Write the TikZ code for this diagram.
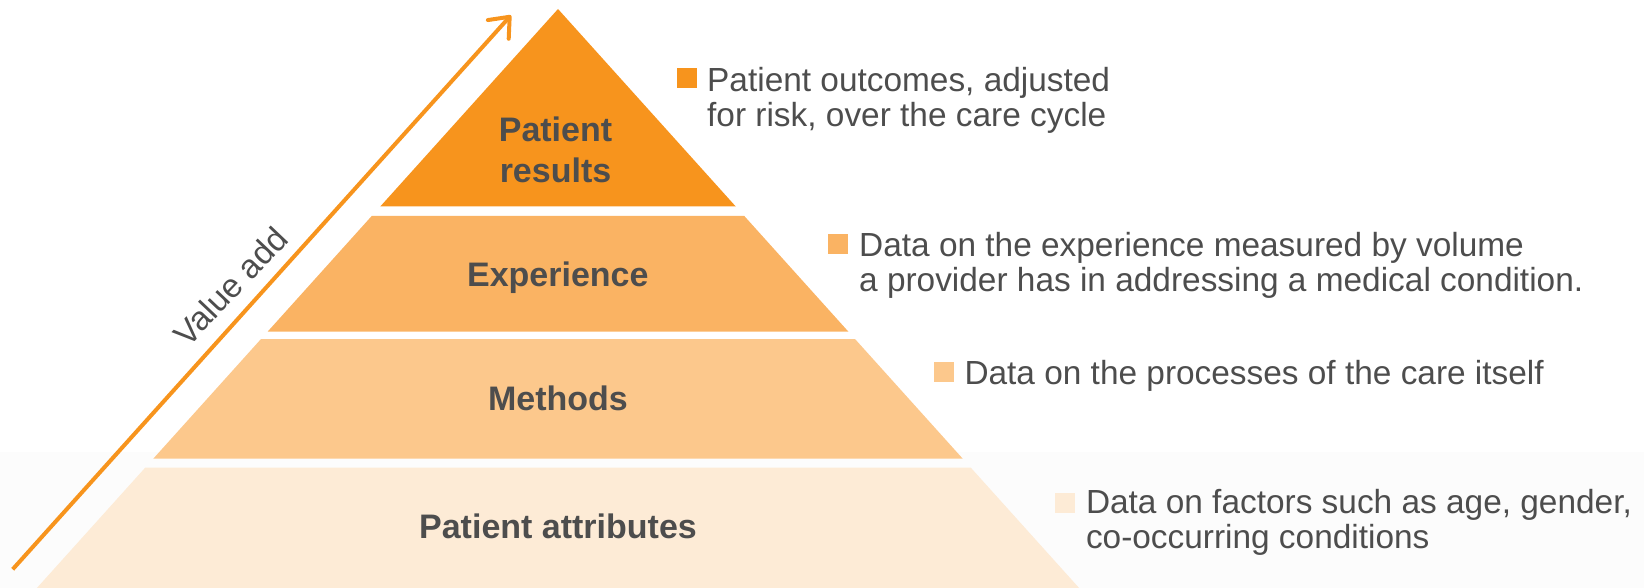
\documentclass[tikz,border=0pt]{standalone}
\usepackage{fontspec}
\setmainfont{Liberation Sans}
\usetikzlibrary{arrows.meta}
\definecolor{orA}{HTML}{F7941D}
\definecolor{orB}{HTML}{FAB363}
\definecolor{orC}{HTML}{FCC88C}
\definecolor{orD}{HTML}{FDEBD6}
\definecolor{txt}{HTML}{4D4D4D}
\definecolor{bgstrip}{HTML}{FCFCFC}
\begin{document}
\begin{tikzpicture}[x=1pt,y=-1pt,
  lbl/.style={font=\fontsize{34}{41}\selectfont\bfseries, text=txt, inner sep=0pt, align=center},
  desc/.style={font=\fontsize{33.4}{34.8}\selectfont, text=txt, inner sep=0pt, align=left, anchor=north west},
  sq/.style={minimum size=20pt, inner sep=0pt, outer sep=0pt, draw=none},
  arrowline/.style={draw=orA, line width=4pt, -{Straight Barb[length=17pt,width=28pt,round]}}]
\useasboundingbox (0,0) rectangle (1644,588);
\fill[bgstrip] (0,452) rectangle (1644,588);
% pyramid bands
\fill[orA] (558,9) -- (735.75,206.5) -- (380.25,206.5) -- cycle;
\fill[orB] (371.7,216) -- (744.3,216) -- (848.25,331.5) -- (267.75,331.5) -- cycle;
\fill[orC] (261,339) -- (855,339) -- (962.55,458.5) -- (153.45,458.5) -- cycle;
\fill[orD] (145.35,467.5) -- (970.65,467.5) -- (1079.1,588) -- (36.9,588) -- cycle;
% band labels
\node[lbl, anchor=south] (lres) at (555.5,183.3) {Patient\\results};
\node[lbl, anchor=base] (lexp) at (557.8,286) {Experience};
\node[lbl, anchor=base] (lmet) at (558,410) {Methods};
\node[lbl, anchor=base] (latt) at (558,538.3) {Patient attributes};
% value arrow
\coordinate (a0) at (12.7,569.3);
\coordinate (a1) at (511,15.3);
\draw[arrowline] (a0) -- (a1);
\node[font=\fontsize{33.4}{36}\selectfont, text=txt, inner sep=0pt, rotate=46.5, anchor=base] (val) at (239,294.5) {Value add};
% legend squares
\node[sq, fill=orA] (s1) at (687,78.3) {};
\node[sq, fill=orB] (s2) at (838.2,244) {};
\node[sq, fill=orC] (s3) at (943.8,372) {};
\node[sq, fill=orD] (s4) at (1064.5,503) {};
% descriptions
\node[desc] (d1) at (707,66.7) {\rule{0pt}{25pt}Patient outcomes, adjusted\\for risk, over the care cycle};
\node[desc] (d2) at (859,231.7) {\rule{0pt}{25pt}Data on the experience measured by volume\\a provider has in addressing a medical condition.};
\node[desc] (d3) at (964.3,359) {\rule{0pt}{25pt}Data on the processes of the care itself};
\node[desc] (d4) at (1085.8,488.3) {\rule{0pt}{25pt}Data on factors such as age, gender,\\co-occurring conditions};
\end{tikzpicture}
\end{document}
